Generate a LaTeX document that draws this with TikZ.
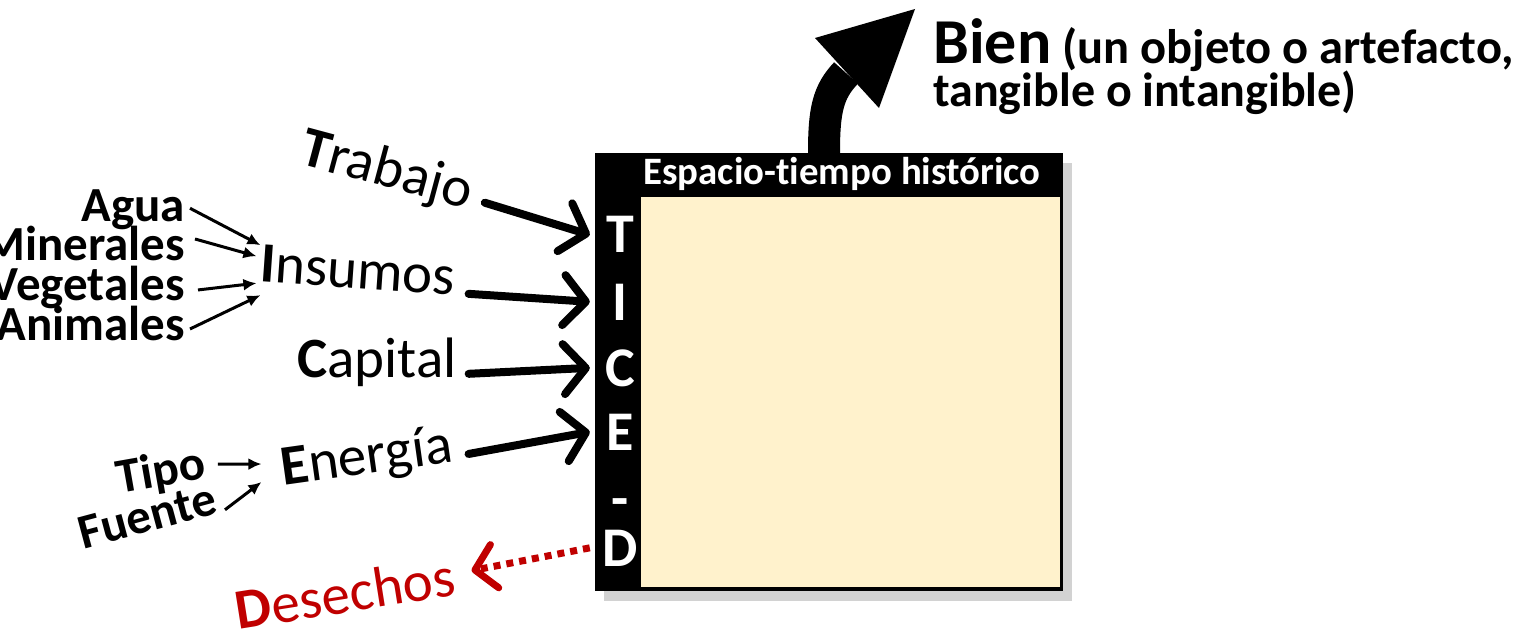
\documentclass[tikz,border=0pt]{standalone}
\usepackage{fontspec}
\setmainfont{Carlito}[Ligatures=NoCommon]
\usetikzlibrary{arrows.meta,calc,shadows}
\definecolor{cream}{HTML}{FFF2CC}
\definecolor{wastered}{HTML}{C00000}
\tikzset{%
	word/.style       = {inner sep=0pt, font=\fontsize{57}{57}\selectfont},
	source/.style     = {inner sep=0pt, font=\bfseries\fontsize{49}{49}\selectfont},
	letter/.style     = {inner sep=0pt, minimum width=60pt, anchor=base, text=white, font=\bfseries\fontsize{56}{56}\selectfont},
	bigarrow/.style   = {line width=8pt, line cap=round, -{Straight Barb[length=22pt,width=50pt,round]}},
	smallarrow/.style = {line width=3pt, -{Latex[length=13pt,width=12pt]}},
	wastearrow/.style = {wastered, line width=7pt, dash pattern=on 7pt off 6pt, -{Straight Barb[length=20pt,width=44pt,round]}},
}
\begin{document}
\begin{tikzpicture}[x=1pt,y=-1pt]
	\useasboundingbox (0,0) rectangle (1529,631);
	% the box
	\node[fill=black, minimum width=468pt, minimum height=438pt, inner sep=0pt,
	      drop shadow={shadow xshift=9pt,shadow yshift=-10pt,fill=black!35}] (box) at (829,372) {};
	\node[fill=cream, minimum width=419pt, minimum height=390pt, inner sep=0pt] (panel) at (850.5,392) {};
	\node[anchor=base, inner sep=0pt, text=white, font=\bfseries\fontsize{38.8}{38.8}\selectfont] (hdr) at (842,185) {Espacio-tiempo histórico};
	\node[letter] (lT) at (620,253) {T};
	\node[letter] (lI) at (620,320) {I};
	\node[letter] (lC) at (620,386) {C};
	\node[letter] (lE) at (620,450) {E};
	\node[letter] (lG) at (620,517) {-};
	\node[letter] (lD) at (620,566) {D};
	
	% output
	\draw[line width=32pt] ([xshift=-5pt]box.north) .. controls (824,110) and (828,92) .. (846,73);
	\fill (815,38) -- (915,9) -- (879,108) -- cycle;
	\node[anchor=base west, inner sep=0pt, font=\bfseries\fontsize{48.5}{48.5}\selectfont] (bien) at (933,64) {{\fontsize{64}{64}\selectfont Bien} (un objeto o artefacto,};
	\node[anchor=base west, inner sep=0pt, font=\bfseries\fontsize{48}{48}\selectfont] (bienb) at (933,107) {tangible o intangible)};
	
	% inputs
	\node[word, rotate=-15] (trabajo) at (387,172) {\textbf{T}rabajo};
	\node[word, rotate=-4] (insumos) at (358,270) {\textbf{I}nsumos};
	\node[word, anchor=base west] (capital) at (297,377) {\textbf{C}apital};
	\node[word, rotate=8] (energia) at (367,459) {\textbf{E}nergía};
	\node[word, rotate=9, text=wastered] (desechos) at (345,593) {\textbf{D}esechos};
	
	\node[source, anchor=base east] (agua) at (185,222) {Agua};
	\node[source, anchor=base east] (minerales) at (185,261) {Minerales};
	\node[source, anchor=base east] (vegetales) at (185,300) {Vegetales};
	\node[source, anchor=base east] (animales) at (185,340) {Animales};
	\node[source, rotate=10] (tipo) at (161,473) {Tipo};
	\node[source, rotate=15] (fuente) at (147,516) {Fuente};
	
	\draw[bigarrow] ([shift={(13,8)}]trabajo.east) -- (lT.west);
	\draw[bigarrow] ([shift={(13,17)}]insumos.east) -- (lI.west);
	\draw[bigarrow] ([shift={(12,12)}]capital.east) -- (lC.west);
	\draw[bigarrow] ([shift={(16,7)}]energia.east) -- (lE.west);
	\draw[wastearrow] (lD.west) -- ([shift={(17,-5)}]desechos.east);
	
	\draw[smallarrow] ([shift={(5,-2)}]agua.east) -- ([shift={(0,-18)}]insumos.west);
	\draw[smallarrow] ([shift={(10,-5)}]minerales.east) -- ([shift={(-4,-7)}]insumos.west);
	\draw[smallarrow] ([shift={(13,3)}]vegetales.east) -- ([shift={(-4,20)}]insumos.west);
	\draw[smallarrow] ([shift={(5,6)}]animales.east) -- ([shift={(0,32)}]insumos.west);
	\draw[smallarrow] ([shift={(13,-1)}]tipo.east) -- ([shift={(-20,-7)}]energia.west);
	\draw[smallarrow] ([shift={(10,12)}]fuente.east) -- ([shift={(-20,11)}]energia.west);
\end{tikzpicture}
\end{document}
